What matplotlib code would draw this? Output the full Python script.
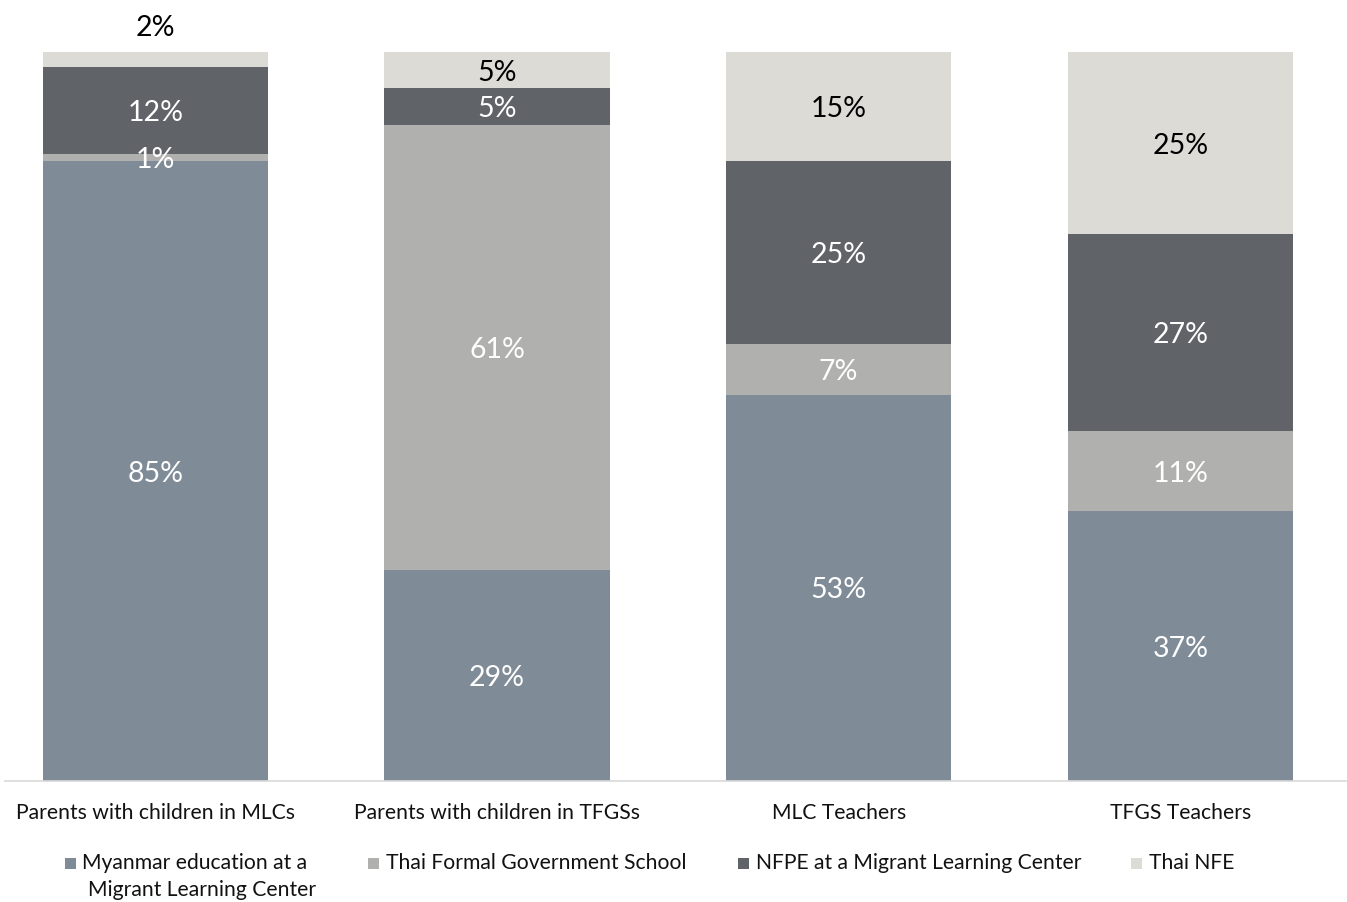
import matplotlib
matplotlib.use("Agg")
import matplotlib.pyplot as plt
from matplotlib.patches import Rectangle
import numpy as np

plt.rcParams['font.family'] = ['Lato', 'DejaVu Sans']

categories = ["Parents with children in MLCs", "Parents with children in TFGSs",
              "MLC Teachers", "TFGS Teachers"]
series_names = ["Myanmar education at a\nMigrant Learning Center",
                "Thai Formal Government School",
                "NFPE at a Migrant Learning Center",
                "Thai NFE"]
myanmar_mlc = [85, 29, 53, 37]
thai_formal = [1, 61, 7, 11]
nfpe_mlc = [12, 5, 25, 27]
thai_nfe = [2, 5, 15, 25]

colors = ["#7F8C98", "#B0B0AF", "#606368", "#DCDBD6"]
label_colors = ["white", "white", "white", "black"]

W, H = 1347, 902
fig = plt.figure(figsize=(W / 100, H / 100), dpi=100)
ax = fig.add_axes([5 / W, 1 - 781 / H, 1342 / W, 729 / H])

series = [myanmar_mlc, thai_formal, nfpe_mlc, thai_nfe]
x = np.arange(len(categories))
bottom = np.zeros(len(categories))
n = len(series)
for si, (vals, col, lc) in enumerate(zip(series, colors, label_colors)):
    vals = np.array(vals, dtype=float)
    ax.bar(x, vals, bottom=bottom, width=0.66, color=col, edgecolor="none")
    for xi, b, v in zip(x, bottom, vals):
        if si == n - 1 and v <= 2:
            # tiny top segment labelled above the bar
            ax.text(xi, 103.6, f"{int(v)}%", ha="center", va="center_baseline",
                    color="black", fontsize=20.5)
        else:
            ax.text(xi, b + v / 2, f"{int(v)}%", ha="center", va="center_baseline",
                    color=lc, fontsize=20.5)
    bottom += vals

ax.set_xlim(-0.44, 3.488)
ax.set_ylim(0, 100)
for s in ["top", "right", "left"]:
    ax.spines[s].set_visible(False)
ax.spines["bottom"].set_color("#D9D9D9")
ax.spines["bottom"].set_linewidth(1.2)
ax.set_yticks([])
ax.set_xticks(x)
ax.set_xticklabels(categories, fontsize=15.2, color="#111111")
ax.tick_params(axis="x", length=0, pad=15.5)

# legend (manual placement)
marker_x = [65, 368, 738, 1131]
text_x = [82, 386, 756, 1149]
row_y = 863
for mx, tx, name, col in zip(marker_x, text_x, series_names, colors):
    fig.patches.append(Rectangle((mx / W, 1 - (row_y + 5.5) / H), 11 / W, 11 / H,
                                 transform=fig.transFigure, facecolor=col,
                                 edgecolor="none"))
    lines = name.split("\n")
    fig.text(tx / W, 1 - row_y / H, lines[0], ha="left", va="center",
             fontsize=15.2, color="#111111")
    if len(lines) > 1:
        fig.text(tx / W + 6 / W, 1 - (row_y + 27) / H, lines[1], ha="left",
                 va="center", fontsize=15.2, color="#111111")

fig.savefig("out.png", dpi=100)
